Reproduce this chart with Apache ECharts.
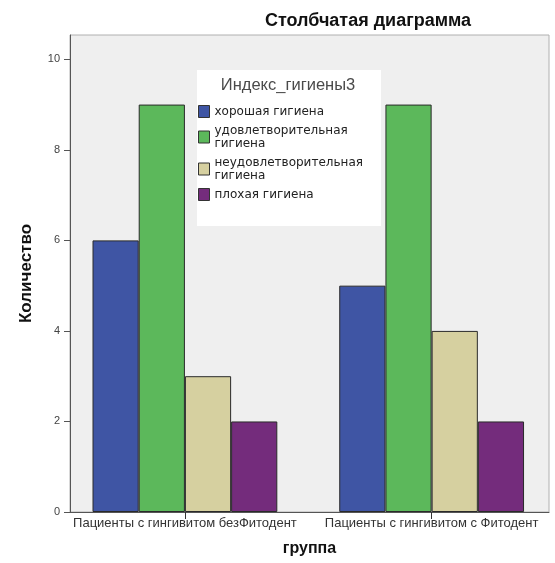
<!DOCTYPE html>
<html>
<head>
<meta charset="utf-8">
<script src="https://cdn.jsdelivr.net/npm/echarts@6/dist/echarts.min.js"></script>
<style>
html,body{margin:0;padding:0;background:#fff;}
#chart{width:555px;height:563px;}
</style>
</head>
<body>
<div id="chart"></div>
<script>
const categories = ['Пациенты с гингивитом безФитодент', 'Пациенты с гингивитом с Фитодент'];
const seriesNames = ['хорошая гигиена', 'удовлетворительная гигиена', 'неудовлетворительная гигиена', 'плохая гигиена'];
const goodHygiene = [6, 5];
const satisfactoryHygiene = [9, 9];
const unsatisfactoryHygiene = [3, 4];
const poorHygiene = [2, 2];
const yMin = 0, yMax = 10, yStep = 2;

const seriesData = [goodHygiene, satisfactoryHygiene, unsatisfactoryHygiene, poorHygiene];
const colors = ['#3f55a4', '#5cb85b', '#d6d0a0', '#742c7c'];

const chart = echarts.init(document.getElementById('chart'), null, {renderer: 'canvas'});
const fam = '"Liberation Sans", Arial, sans-serif';

const option = {
  backgroundColor: '#ffffff',
  animation: false,
  title: [
    {text: 'Столбчатая диаграмма', left: 368, top: 12, textAlign: 'center', padding: 0,
     textStyle: {fontFamily: fam, fontSize: 18, fontWeight: 'bold', color: '#111'}},
    {text: 'Индекс_гигиены3', left: 288, top: 77, textAlign: 'center', padding: 0, z: 10,
     textStyle: {fontFamily: fam, fontSize: 16.5, fontWeight: 'normal', color: '#4a4a4a'}}
  ],
  legend: {
    orient: 'vertical', left: 197, top: 70,
    padding: [35, 18, 25, 1],
    backgroundColor: '#ffffff',
    icon: 'rect',
    itemWidth: 11, itemHeight: 12, itemGap: 6,
    data: seriesNames,
    formatter: name => name.length > 18 ? name.replace(' ', '\n') : name,
    textStyle: {fontFamily: '"DejaVu Sans", sans-serif', fontSize: 12, lineHeight: 13, color: '#222'},
    itemStyle: {borderColor: '#333', borderWidth: 1}
  },
  grid: [
    {left: 70, right: 6, top: 35, bottom: 51, show: true, backgroundColor: '#efefef', borderColor: '#b0b0b0', borderWidth: 1},
    {left: 61.55, right: -3.15, top: 59.3, bottom: 51},
    {left: 70, right: 6, top: 59.3, bottom: 51}
  ],
  xAxis: [
    {gridIndex: 0, type: 'value', min: 0, max: 1,
     axisLine: {show: true, lineStyle: {color: '#555', width: 1}},
     axisTick: {show: false}, axisLabel: {show: false}, splitLine: {show: false},
     name: 'группа', nameLocation: 'middle', nameGap: 29,
     nameTextStyle: {fontFamily: fam, fontSize: 16, fontWeight: 'bold', color: '#111'}},
    {gridIndex: 1, type: 'category', data: categories, boundaryGap: true,
     axisLine: {show: false},
     axisTick: {show: true, alignWithLabel: true, interval: 0, length: 7, lineStyle: {color: '#333'}},
     axisLabel: {fontFamily: fam, fontSize: 13, color: '#333', margin: 5, interval: 0},
     splitLine: {show: false}},
    {gridIndex: 2, type: 'value', min: 0, max: 1, show: false}
  ],
  yAxis: [
    {gridIndex: 0, type: 'value', min: 0, max: 1,
     axisLine: {show: true, lineStyle: {color: '#555', width: 1}},
     axisTick: {show: false}, axisLabel: {show: false}, splitLine: {show: false},
     name: 'Количество', nameLocation: 'middle', nameGap: 35,
     nameTextStyle: {fontFamily: fam, fontSize: 17, fontWeight: 'bold', color: '#111'}},
    {gridIndex: 1, type: 'value', min: yMin, max: yMax, show: false},
    {gridIndex: 2, type: 'value', min: yMin, max: yMax, interval: yStep,
     axisLine: {show: false},
     axisTick: {show: true, length: 6, lineStyle: {color: '#555'}},
     axisLabel: {fontFamily: fam, fontSize: 11, color: '#444', margin: 10},
     splitLine: {show: false}}
  ],
  series: seriesNames.map((name, i) => ({
    name: name, type: 'bar', xAxisIndex: 1, yAxisIndex: 1,
    data: seriesData[i], barWidth: 46.2, barGap: '0%',
    itemStyle: {color: colors[i], borderColor: '#2a2a2a', borderWidth: 1}
  }))
};
chart.setOption(option);
</script>
</body>
</html>
